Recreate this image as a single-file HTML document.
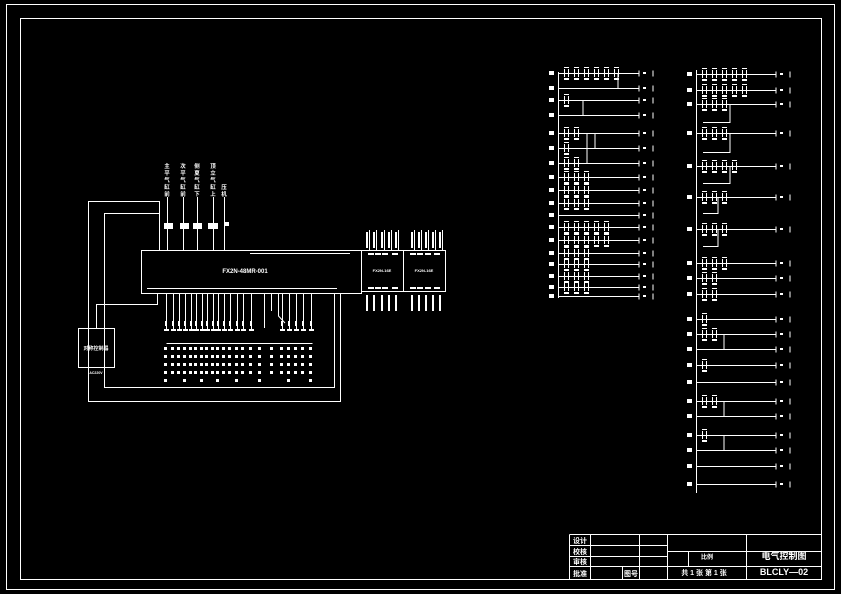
<!DOCTYPE html>
<html><head><meta charset="utf-8"><style>
html,body{margin:0;padding:0;background:#000;}
svg{display:block}
text{font-family:"Liberation Sans","Noto Sans CJK SC",sans-serif;fill:#fff;font-weight:bold}
</style></head><body>
<svg id="s" width="841" height="594" viewBox="0 0 841 594" xmlns="http://www.w3.org/2000/svg">
<g fill="none" stroke="#fff" stroke-width="1">
<rect x="6.5" y="4.5" width="828" height="585"/>
<rect x="20.5" y="18.5" width="801" height="561"/>
<path d="M569.5 534.5H821.5M569.5 545.5H667.5M569.5 556.5H667.5M569.5 566.5H821.5M667.5 551.5H821.5M569.5 534.5V579.5M590.5 534.5V579.5M639.5 534.5V579.5M667.5 534.5V579.5M746.5 534.5V579.5M688.5 551.5V566.5M622.5 566.5V579.5"/>
<rect x="141.5" y="250.5" width="220" height="43"/>
<rect x="361.5" y="250.5" width="42" height="41"/>
<rect x="403.5" y="250.5" width="42" height="41"/>
<rect x="78.5" y="328.5" width="36" height="39"/>
<path d="M159.5 250.5V201.5H88.5V401.5H340.5V293.5M159.5 213.5H104.5V387.5H334.5V293.5M157.5 293.5V304.5H96.5V328.5"/>
<path d="M167.5 197V250M183.5 197V250M197.5 197V250M213.5 197V250M224.5 197V250"/>
<path d="M166.5 343.5H312.5M264.5 293V328"/>
</g>
<g id="dyn" stroke="#fff" fill="none"></g>
<g fill="#fff" stroke="none">
<rect x="164" y="223" width="9" height="6"/><rect x="180" y="223" width="9" height="6"/><rect x="193" y="223" width="9" height="6"/><rect x="208" y="223" width="10" height="6"/><rect x="225" y="222" width="4" height="4"/>
</g>
<g font-size="5.5" text-anchor="middle">
<text x="167" y="168">主</text><text x="167" y="175">平</text><text x="167" y="182">气</text><text x="167" y="189">缸</text><text x="167" y="196">前</text>
<text x="183" y="168">次</text><text x="183" y="175">平</text><text x="183" y="182">气</text><text x="183" y="189">缸</text><text x="183" y="196">前</text>
<text x="197" y="168">侧</text><text x="197" y="175">夏</text><text x="197" y="182">气</text><text x="197" y="189">缸</text><text x="197" y="196">下</text>
<text x="213" y="168">顶</text><text x="213" y="175">立</text><text x="213" y="182">气</text><text x="213" y="189">缸</text><text x="213" y="196">上</text>
<text x="224" y="189">压</text><text x="224" y="196">机</text>
<text x="245" y="273" font-size="6">FX2N-48MR-001</text>
<text x="382" y="272" font-size="4">FX2N-16E</text><text x="424" y="272" font-size="4">FX2N-16E</text>
<text x="96" y="350" font-size="5">对称控制器</text>
<text x="96" y="374" font-size="3.5">AC220V</text>
<text x="701" y="559" font-size="6" text-anchor="start">比例</text>
<text x="784" y="559" font-size="9">电气控制图</text>
<text x="784" y="575" font-size="9" font-family="Liberation Serif">BLCLY—02</text>
<text x="704" y="575" font-size="7">共 1 张  第 1 张</text>
<text x="580" y="543" font-size="7">设计</text><text x="580" y="554" font-size="7">校核</text><text x="580" y="564" font-size="7">审核</text><text x="580" y="576" font-size="7">批准</text>
<text x="631" y="576" font-size="7">图号</text>
</g>
</svg>
<script>
var d=document.getElementById('dyn'),NS='http://www.w3.org/2000/svg';
function p(s,f){var e=document.createElementNS(NS,'path');e.setAttribute('d',s);if(f){e.setAttribute('fill','#fff');e.setAttribute('stroke','none');}d.appendChild(e);}
function r(x,y,w,h){p('M'+x+' '+y+'h'+w+'v'+h+'h-'+w+'z',1);}
var bx=[166,173,179,185,191,196,202,207,213,218,224,230,237,243,251],bx2=[282,289,296,303,311];
bx.concat(bx2).forEach(function(x){p('M'+(x+.5)+' 293V330');r(x-2,329,5,2);r(x-1,321,2,5);});
p('M278.5 293V316L285 323');p('M271.5 293V311');
var cols=bx.concat([260,272],bx2);
cols.forEach(function(x,i){var n=(i%3==0)?5:4;for(var k=0;k<n;k++){r(x-2,347+k*8,3,3);} });
[366,373,381,388,395,411,418,425,432,439].forEach(function(x){r(x,232,2,16);r(x,295,2,16);p('M'+(x+3.5)+' 230V250');});
[371,378,385,395,413,420,428,437].forEach(function(x){r(x-3,253,6,2);r(x-3,287,6,2);});
r(250,253,100,1);r(147,288,190,1);
function ladder(rx,top,bot,ys,rend,contacts){
 p('M'+(rx+.5)+' '+top+'V'+bot);
 ys.forEach(function(y,i){var yy=y+.5;p('M'+(rx)+' '+yy+'H'+(rend-14));
  p('M'+(rend-14)+' '+(yy-3)+'v6M'+(rend)+' '+(yy-3)+'v6');r(rend-10,y-1,3,2);
  r(rx-9,y-2,5,4);
  var n=contacts[i]||0;for(var k=0;k<n;k++){var cx=rx+6+k*10;r(cx,y-4,1,8);r(cx+4,y-4,1,8);r(cx,y-6,5,1);r(cx,y+5,5,2);}
 });
}
var y1=[73,88,100,115,133,148,163,177,190,203,215,227,240,253,264,276,287,296];
ladder(558,72,298,y1,653,[6,0,1,0,2,1,2,3,3,3,0,5,5,3,3,3,3,0]);
p('M618 73.5V88.5M583 100.5V115.5M595 133.5V148.5M587 133.5V163.5');
var y2=[74,90,104,133,166,197,229,263,278,294,319,334,349,365,382,401,416,435,450,466,484];
ladder(696,70,493,y2,790,[5,5,3,3,4,3,3,3,2,2,1,2,0,1,0,2,0,1,0,0,0]);
p('M730 104.5V122.5H703M730 133.5V152.5H703M730 166.5V183.5H703M718 197.5V213.5H703M718 229.5V246.5H703M724 334.5V349.5M724 401.5V416.5M724 435.5V450.5');
</script>
</body></html>
